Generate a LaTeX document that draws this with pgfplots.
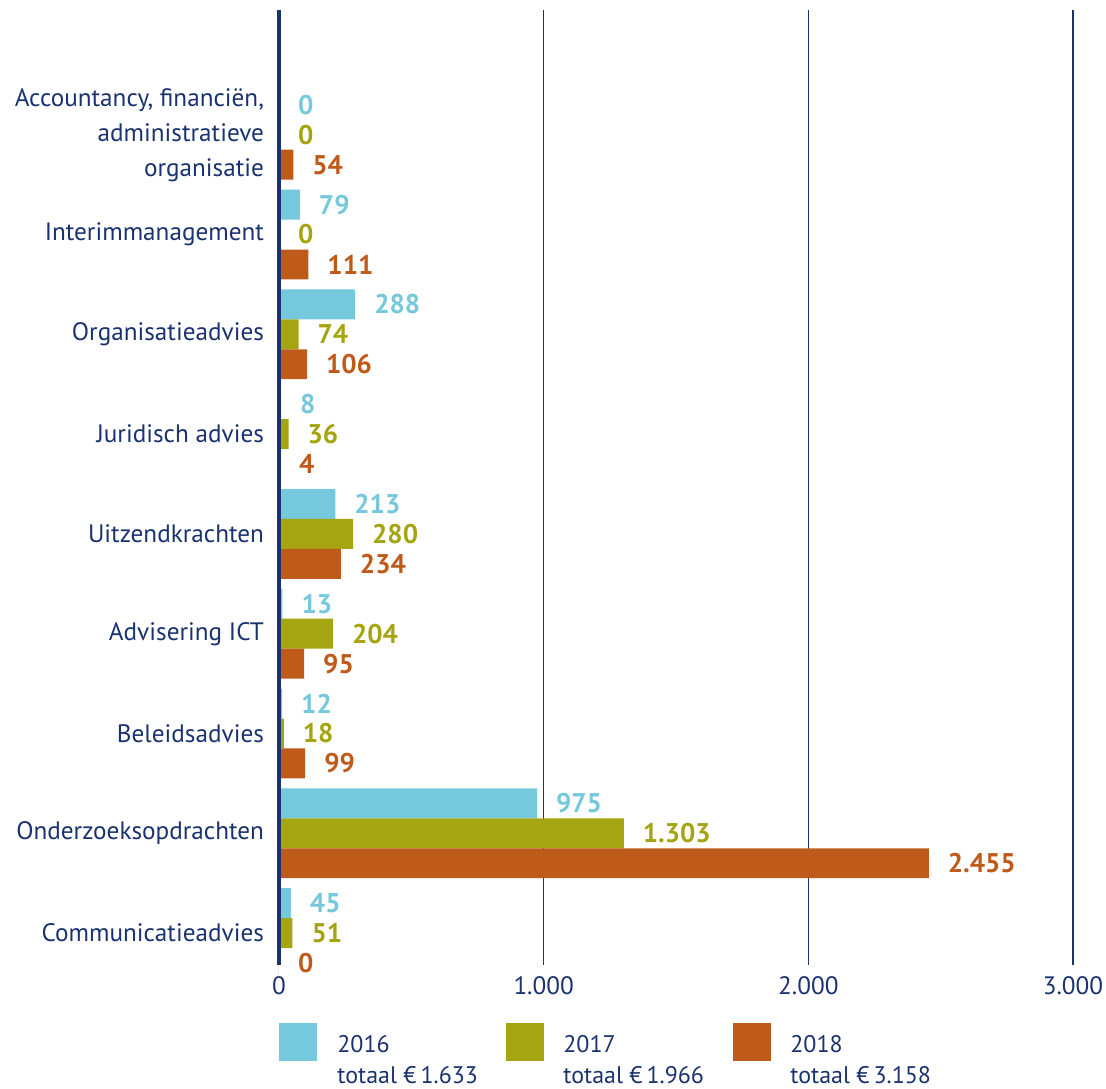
\documentclass[border=0pt]{standalone}
\usepackage{pgfplots}
\pgfplotsset{compat=1.18}
\usepackage{pgfplotstable}
\usepackage{fontspec}
\setmainfont{PT Sans}
\definecolor{c16}{HTML}{76C8DC}
\definecolor{c17}{HTML}{A4A510}
\definecolor{c18}{HTML}{BE5A1A}
\definecolor{navy}{HTML}{1A3270}
\pgfplotstableread{
y v16 v17 v18
0 45 51 0
1 975 1303 2455
2 12 18 99
3 13 204 95
4 213 280 234
5 8 36 4
6 288 74 106
7 79 0 111
8 0 0 54
}\data
\pgfkeys{/pgf/number format/.cd,1000 sep={.},assume math mode=true}
\begin{document}
\begin{tikzpicture}
\useasboundingbox (-139.5pt,-61.5pt) rectangle (413.5pt,482.5pt);
\begin{axis}[
  scale only axis, clip=false,
  width=397pt, height=477.5pt,
  xbar, bar width=0.3,
  xmin=0, xmax=3000,
  ymin=-0.32, ymax=9.25,
  axis line style={draw=none},
  xtick={0,1000,2000,3000},
  xmajorgrids, grid style={navy, line width=0.6pt},
  major tick length=0pt,
  ytick={0,...,8},
  yticklabels={Communicatieadvies,Onderzoeksopdrachten,Beleidsadvies,Advisering ICT,Uitzendkrachten,Juridisch advies,Organisatieadvies,Interimmanagement,{Accountancy, financiën,\\administratieve\\organisatie}},
  yticklabel style={align=right, font=\fontsize{12.6}{17.5}\selectfont, text=navy, xshift=-4pt},
  xticklabel style={font=\fontsize{12.6}{15}\selectfont, text=navy, yshift=-2pt},
  nodes near coords,
  every node near coord/.append style={font=\fontsize{13.5}{15}\selectfont\bfseries, anchor=west, xshift=6pt},
]
\addplot[fill=c16, draw=none, bar shift=0.3, nodes near coords style={text=c16}] table[x=v16,y=y]{\data};
\addplot[fill=c17, draw=none, bar shift=0, nodes near coords style={text=c17}] table[x=v17,y=y]{\data};
\addplot[fill=c18, draw=none, bar shift=-0.3, nodes near coords style={text=c18}] table[x=v18,y=y]{\data};
\draw[navy, line width=2.2pt] (axis cs:0,-0.32) -- (axis cs:0,9.25);
\end{axis}
\fill[c16] (0pt,-29pt) rectangle (19pt,-48pt);
\fill[c17] (113.5pt,-29pt) rectangle (132.5pt,-48pt);
\fill[c18] (227pt,-29pt) rectangle (246pt,-48pt);
\begin{scope}[every node/.style={anchor=base west, inner sep=0pt, text=navy, font=\fontsize{12}{15}\selectfont}]
\node at (29pt,-43.5pt) {2016};
\node at (29pt,-59pt) {totaal €\,1.633};
\node at (142pt,-43.5pt) {2017};
\node at (142pt,-59pt) {totaal €\,1.966};
\node at (255.5pt,-43.5pt) {2018};
\node at (255.5pt,-59pt) {totaal €\,3.158};
\end{scope}
\end{tikzpicture}
\end{document}
